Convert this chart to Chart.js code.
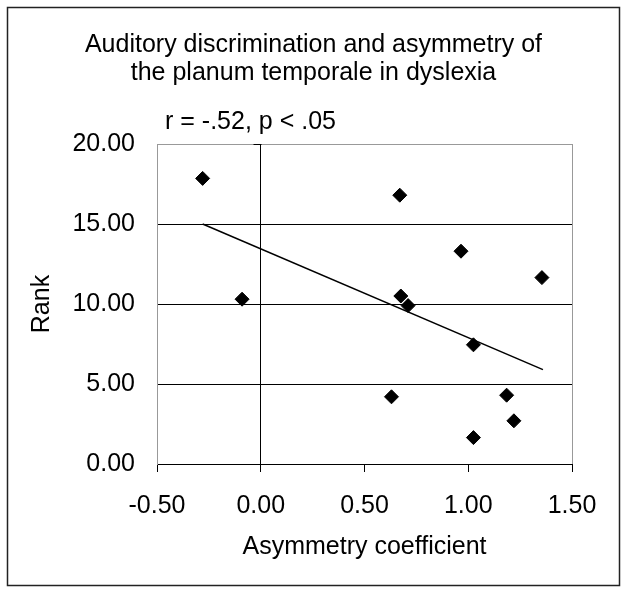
<!DOCTYPE html>
<html lang="en">
<head>
  <meta charset="UTF-8">
  <title>Auditory discrimination and asymmetry of the planum temporale in dyslexia</title>
  <script src="https://cdn.jsdelivr.net/npm/chart.js"></script>
  <style>
    body {
      margin: 0;
      background: #fff;
    }
    canvas {
      display: block;
    }
  </style>
</head>
<body>
  <canvas id="myChart" width="628" height="594"></canvas>

  <script>
    // data
    const asymmetry = [-0.28, -0.09, 0.67, 0.675, 0.71, 0.965, 1.355, 1.025, 0.63, 1.185, 1.22, 1.025];
    const rank = [17.85, 10.3, 16.8, 10.5, 9.9, 13.3, 11.65, 7.45, 4.2, 4.3, 2.7, 1.65];

    // regression line end points
    const trendX = [-0.28, 1.36];
    const trendY = [15.0, 5.9];

    const titleLines = ['Auditory discrimination and asymmetry of', 'the planum temporale in dyslexia'];
    const statText = 'r = -.52, p < .05';
    const xTitle = 'Asymmetry coefficient';
    const yTitle = 'Rank';

    const FONT = '"Liberation Sans", Arial, sans-serif';

    // frame, title centred on the whole picture, stat label, y axis ticks at x = 0
    const extras = {
      id: 'extras',
      afterDraw(chart) {
        const ctx = chart.ctx;
        const x = chart.scales.x;
        const y = chart.scales.y;
        ctx.save();
        ctx.strokeStyle = '#222';
        ctx.lineWidth = 1.5;
        ctx.strokeRect(7.5, 7.5, 612, 578);

        ctx.fillStyle = '#000';
        ctx.font = '25px ' + FONT;
        ctx.textBaseline = 'alphabetic';
        ctx.textAlign = 'center';
        titleLines.forEach((line, i) => {
          ctx.fillText(line, 313.5, 52 + i * 28);
        });

        ctx.textAlign = 'left';
        ctx.fillText(statText, chart.chartArea.left + 8, 129);

        // small ticks left of the axis at x = 0
        const x0 = Math.round(x.getPixelForValue(0)) + 0.5;
        ctx.strokeStyle = '#000';
        ctx.lineWidth = 1;
        y.ticks.forEach(t => {
          const py = Math.round(y.getPixelForValue(t.value)) + 0.5;
          ctx.beginPath();
          ctx.moveTo(x0 - 8, py);
          ctx.lineTo(x0, py);
          ctx.stroke();
        });
        ctx.restore();
      }
    };

    const ctx = document.getElementById('myChart').getContext('2d');
    const myChart = new Chart(ctx, {
      type: 'scatter',
      data: {
        datasets: [
          {
            label: 'Rank',
            data: asymmetry.map((v, i) => ({ x: v, y: rank[i] })),
            pointStyle: 'rectRot',
            pointRadius: 7,
            backgroundColor: '#000',
            borderColor: '#000',
            borderWidth: 1
          },
          {
            label: 'Trend',
            type: 'line',
            data: trendX.map((v, i) => ({ x: v, y: trendY[i] })),
            borderColor: '#000',
            borderWidth: 1.5,
            pointRadius: 0,
            fill: false
          }
        ]
      },
      options: {
        responsive: false,
        animation: false,
        layout: {
          padding: { left: 0, right: 56, top: 144, bottom: 0 }
        },
        plugins: {
          legend: { display: false },
          tooltip: { enabled: false },
          title: { display: false }
        },
        scales: {
          x: {
            type: 'linear',
            min: -0.5,
            max: 1.5,
            afterFit(scale) { scale.height = 130; },
            ticks: {
              stepSize: 0.5,
              color: '#000',
              padding: 19,
              font: { family: FONT, size: 25 },
              callback: v => v.toFixed(2)
            },
            grid: {
              color: c => {
                const v = c.tick ? c.tick.value : null;
                if (v === 0) return '#000';
                if (v === -0.5 || v === 1.5) return '#999';
                return 'rgba(0,0,0,0)';
              },
              tickColor: '#000',
              tickLength: 8
            },
            border: { color: '#000', width: 1 },
            title: {
              display: true,
              text: xTitle,
              color: '#000',
              font: { family: FONT, size: 25 },
              padding: { top: 0, bottom: 32 }
            }
          },
          y: {
            min: 0,
            max: 20,
            afterFit(scale) { scale.width = 157; },
            ticks: {
              stepSize: 5,
              color: '#000',
              padding: 22,
              font: { family: FONT, size: 25 },
              callback: v => v.toFixed(2)
            },
            grid: {
              color: c => (c.tick && c.tick.value === 20 ? '#999' : '#000'),
              drawTicks: false
            },
            border: { color: '#999', width: 1 },
            title: {
              display: true,
              text: yTitle,
              color: '#000',
              font: { family: FONT, size: 25 },
              padding: { top: 27, bottom: 0 }
            }
          }
        }
      },
      plugins: [extras]
    });
  </script>
</body>
</html>
